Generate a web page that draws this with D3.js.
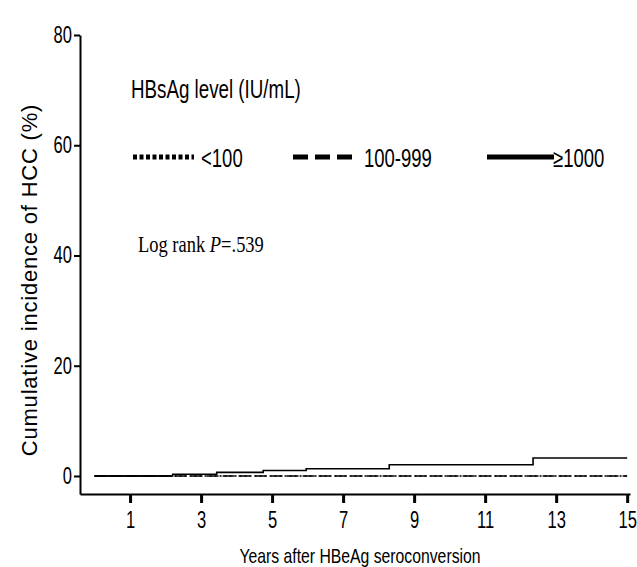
<!DOCTYPE html>
<html>
<head>
<meta charset="utf-8">
<script src="https://cdn.jsdelivr.net/npm/d3@7"></script>
<style>
  body { margin: 0; background: #fff; }
  svg { display: block; font-family: "Liberation Sans", Arial, sans-serif; }
</style>
</head>
<body>
<svg id="km" width="637" height="567"></svg>
<script>
"use strict";

// Data (years, cumulative incidence %)
const xTicks = [1, 3, 5, 7, 9, 11, 13, 15];
const yTicks = [0, 20, 40, 60, 80];

const groups = ["<100", "100-999", "\u22651000"];

const stepLow  = [[0, 0], [15, 0]];
const stepMid  = [[0, 0], [15, 0]];
const stepHigh = [[0, 0], [2.2, 0.3], [3.44, 0.65], [4.75, 1.0], [5.96, 1.3],
                  [8.3, 2.05], [12.35, 3.25], [15, 3.25]];

// the original uses a narrow face; squeeze the glyphs horizontally
function squeeze(sel, f) {
    sel.each(function () {
        const w = this.getComputedTextLength();
        d3.select(this)
            .attr("textLength", w * f)
            .attr("lengthAdjust", "spacingAndGlyphs");
    });
}

const svg = d3.select("#km");

const x = d3.scaleLinear().domain([-0.41, 15.08]).range([80, 630]);
const y = d3.scaleLinear().domain([-3.27, 80]).range([494, 35]);

const tickSquash = 0.72;

// axes
const gy = svg.append("g")
    .attr("transform", "translate(80,0)")
    .call(d3.axisLeft(y).tickValues(yTicks).tickSize(6).tickSizeOuter(0).tickPadding(2));
gy.select(".domain").attr("stroke-width", 2);
gy.selectAll(".tick line").attr("stroke-width", 2);
gy.selectAll(".tick text")
    .attr("font-family", "Liberation Sans, Arial, sans-serif")
    .attr("font-size", 23)
    .attr("fill", "#000")
    .attr("x", -8 / tickSquash)
    .attr("transform", `scale(${tickSquash},1)`);

const gx = svg.append("g")
    .attr("transform", "translate(0,494)")
    .call(d3.axisBottom(x).tickValues(xTicks).tickSize(9).tickSizeOuter(0).tickPadding(0));
gx.select(".domain").attr("stroke-width", 2);
gx.selectAll(".tick line").attr("stroke-width", 3);
gx.selectAll(".tick text")
    .attr("font-family", "Liberation Sans, Arial, sans-serif")
    .attr("font-size", 23)
    .attr("dy", null)
    .attr("y", 34)
    .attr("fill", "#000")
    .attr("transform", `scale(${tickSquash},1)`);

// axis titles
svg.append("text")
    .attr("x", 360).attr("y", 563)
    .attr("text-anchor", "middle")
    .attr("font-size", 21)
    .text("Years after HBeAg seroconversion")
    .call(squeeze, 0.75);

svg.append("text")
    .attr("transform", "translate(37,280) rotate(-90)")
    .attr("text-anchor", "middle")
    .attr("font-size", 22)
    .attr("letter-spacing", 0.8)
    .text("Cumulative incidence of HCC (%)");

// curves
const line = d3.line()
    .x(d => x(d[0]))
    .y(d => y(d[1]))
    .curve(d3.curveStepAfter);

const curves = svg.append("g").attr("fill", "none").attr("stroke", "#000");
curves.append("path").datum(stepHigh).attr("d", line).attr("stroke-width", 1.6);
curves.append("path").datum(stepLow).attr("d", line).attr("stroke-width", 1.4)
    .attr("stroke-dasharray", "2,3");
curves.append("path").datum(stepMid).attr("d", line).attr("stroke-width", 1.4)
    .attr("stroke-dasharray", "12,4");
// all three overlap until the first event
curves.append("path").datum([[0, 0], [2.2, 0]]).attr("d", line).attr("stroke-width", 1.6);

// legend
const leg = svg.append("g");
leg.append("text")
    .attr("x", 131).attr("y", 98)
    .attr("font-size", 25)
    .text("HBsAg level (IU/mL)")
    .call(squeeze, 0.75);

const legItems = [
    { x0: 133, x1: 194, tx: 201, dash: "4,2.5", w: 5 },
    { x0: 293, x1: 355, tx: 364, dash: "15,7", w: 5 },
    { x0: 487, x1: 554, tx: 553, dash: null, w: 5 }
];
legItems.forEach((d, i) => {
    leg.append("line")
        .attr("x1", d.x0).attr("x2", d.x1)
        .attr("y1", 157).attr("y2", 157)
        .attr("stroke", "#000")
        .attr("stroke-width", d.w)
        .attr("stroke-dasharray", d.dash);
    leg.append("text")
        .attr("x", d.tx).attr("y", 167)
        .attr("font-size", 25)
        .text(groups[i])
        .call(squeeze, 0.74);
});

// log rank annotation (serif, condensed)
const lr = svg.append("text")
    .attr("transform", "translate(138,252) scale(0.77,1)")
    .style("font-family", "'Liberation Serif', 'Times New Roman', serif")
    .attr("font-size", 24);
lr.append("tspan").text("Log rank ");
lr.append("tspan").attr("font-style", "italic").text("P");
lr.append("tspan").text("=.539");
</script>
</body>
</html>
